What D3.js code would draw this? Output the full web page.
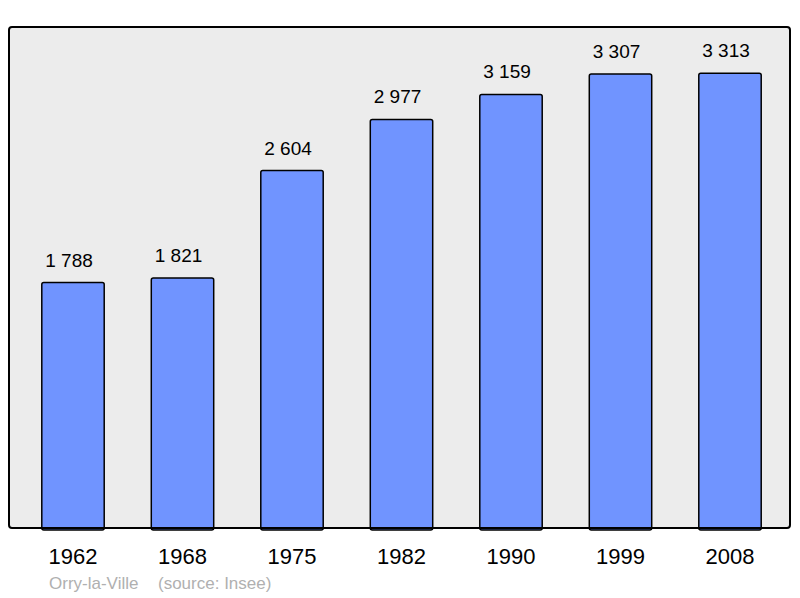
<!DOCTYPE html>
<html>
<head>
<meta charset="utf-8">
<script src="https://cdn.jsdelivr.net/npm/d3@7"></script>
<style>
  body { margin: 0; background: #ffffff; }
  svg { display: block; font-family: "Liberation Sans", Arial, sans-serif; }
</style>
</head>
<body>
<div id="chart-area"></div>
<script>
// population data
const years = ["1962", "1968", "1975", "1982", "1990", "1999", "2008"];
const population = [1788, 1821, 2604, 2977, 3159, 3307, 3313];
const townName = "Orry-la-Ville";
const sourceText = "(source: Insee)";

var w = 800, h = 598;
var frame = {left: 9, top: 27, right: 790, bottom: 528};

var formatPop = d => d3.format(",")(d).replace(/,/g, "\u00a0");

var svg = d3.select("#chart-area").append("svg")
    .attr("width", w)
    .attr("height", h);

var x = d3.scaleBand()
    .domain(years)
    .range([18.25, 784.75])
    .paddingInner(0.43)
    .paddingOuter(0.215);

var y = d3.scaleLinear()
    .domain([0, 3650])
    .range([frame.bottom, frame.top]);

// background frame
svg.append("rect")
    .attr("x", frame.left)
    .attr("y", frame.top)
    .attr("width", frame.right - frame.left)
    .attr("height", frame.bottom - frame.top)
    .attr("rx", 3)
    .attr("fill", "#ececec");

svg.selectAll("rect.bar")
    .data(population)
    .enter().append("rect")
    .attr("class", "bar")
    .attr("x", (d, i) => x(years[i]))
    .attr("y", d => y(d))
    .attr("width", x.bandwidth())
    .attr("height", d => y(0) - y(d) + 2)
    .attr("rx", 2)
    .attr("fill", "#7094ff")
    .attr("stroke", "#000")
    .attr("stroke-width", 1.5);

// frame outline on top
svg.append("rect")
    .attr("x", frame.left)
    .attr("y", frame.top)
    .attr("width", frame.right - frame.left)
    .attr("height", frame.bottom - frame.top)
    .attr("rx", 3)
    .attr("fill", "none")
    .attr("stroke", "#000")
    .attr("stroke-width", 2);

svg.selectAll("text.val")
    .data(population)
    .enter().append("text")
    .attr("class", "val")
    .attr("x", (d, i) => x(years[i]) + x.bandwidth() / 2 - 4)
    .attr("y", d => y(d) - 16)
    .attr("text-anchor", "middle")
    .attr("font-size", 19)
    .attr("fill", "#000")
    .text(d => formatPop(d));

svg.selectAll("text.year")
    .data(years)
    .enter().append("text")
    .attr("class", "year")
    .attr("x", d => x(d) + x.bandwidth() / 2)
    .attr("y", 564)
    .attr("text-anchor", "middle")
    .attr("font-size", 22)
    .attr("fill", "#000")
    .text(d => d);

svg.append("text")
    .attr("x", 49)
    .attr("y", 589)
    .attr("font-size", 17)
    .attr("fill", "#b0b0b0")
    .text(townName);

svg.append("text")
    .attr("x", 158)
    .attr("y", 589)
    .attr("font-size", 17)
    .attr("fill", "#b0b0b0")
    .text(sourceText);
</script>
</body>
</html>
